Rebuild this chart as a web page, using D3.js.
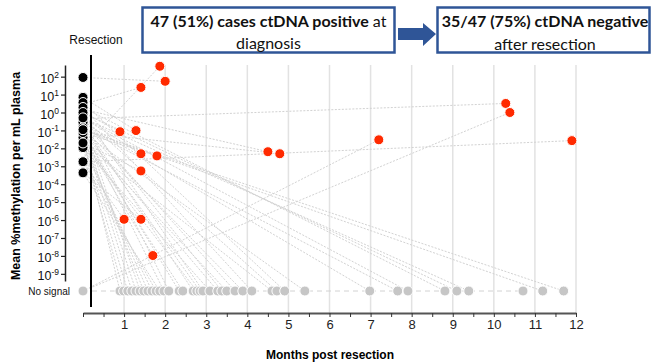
<!DOCTYPE html>
<html>
<head>
<meta charset="utf-8">
<script src="https://cdn.jsdelivr.net/npm/d3@7"></script>
<style>
body { margin: 0; background: #fff; }
svg { display: block; font-family: "Liberation Sans", Arial, sans-serif; }
</style>
</head>
<body>
<div id="chart"></div>
<script>
// ctDNA positive after resection (red): months, value, value at diagnosis (null = no signal)
var posMonths = [1.87, 2.0, 1.41, 0.9, 1.29, 1.41, 1.80, 1.41, 1.0, 1.41, 1.70, 4.5, 4.79, 7.2, 10.29, 10.39, 11.9];
var posValues = [380, 55, 25, 0.085, 0.098, 0.005, 0.0038, 0.00055, 1.1e-6, 1.1e-6, 1.05e-8, 0.0065, 0.005, 0.03, 3.2, 1.0, 0.027];
var posDiag = [0.011, 90, 2.8, 1, 7, 0.5, 0.076, 0.02, 0.0018, 0.00043, 0.04, 1.5, 0.076, null, 0.45, null, 0.0018];

// no signal after resection (grey)
var negMonths = [0.90, 0.99, 1.09, 1.19, 1.29, 1.39, 1.48, 1.58, 1.68, 1.78, 1.87, 1.97, 2.09, 2.34, 2.43,
  2.68, 2.77, 2.85, 2.92, 3.09, 3.28, 3.38, 3.50, 3.70, 3.89, 4.11, 4.60, 4.72, 4.91, 5.40,
  6.98, 7.66, 7.91, 8.81, 9.10, 9.39, 10.71, 11.19, 11.70];
var negDiag = [0.04, 0.011, 0.02, 0.076, 0.14, 0.28, 0.04, 0.02, 0.011, 0.0018, 0.00043, 0.14, 0.5, 0.076, 0.04,
  0.28, 0.02, 0.14, 1, 0.011, 0.076, 0.5, 0.04, 0.28, 0.14, 1.9, 0.02, 0.5, 3.6, 0.076,
  0.28, 0.14, 0.5, 1.9, 1, 0.5, null, 0.11, 0.11];

var xTicks = d3.range(0, 12.5, 0.5);
var yTicks = [1e2, 1e1, 1e0, 1e-1, 1e-2, 1e-3, 1e-4, 1e-5, 1e-6, 1e-7, 1e-8, 1e-9];

var W = 652, H = 363;
var svg = d3.select("#chart").append("svg").attr("width", W).attr("height", H);

var x = d3.scaleLinear().domain([0, 12]).range([83, 576]);
var y = d3.scaleLog().domain([Math.pow(10, -9.4), Math.pow(10, 2.65)]).range([281, 65]);
var yNone = 291;
function yv(v) { return v == null ? yNone : y(v); }

// grid
svg.append("g").selectAll("line").data(d3.range(1, 13)).enter().append("line")
  .attr("x1", function (d) { return x(d); }).attr("x2", function (d) { return x(d); })
  .attr("y1", 65).attr("y2", 313)
  .attr("stroke", "#e2e2e2").attr("stroke-width", 1.5);

// patients
var patients = [];
posMonths.forEach(function (m, i) { patients.push({ m: m, v: posValues[i], d: posDiag[i], pos: true }); });
negMonths.forEach(function (m, i) { patients.push({ m: m, v: null, d: negDiag[i], pos: false }); });

svg.append("g").selectAll("line").data(patients).enter().append("line")
  .attr("x1", x(0)).attr("y1", function (p) { return yv(p.d); })
  .attr("x2", function (p) { return x(p.m); }).attr("y2", function (p) { return yv(p.v); })
  .attr("stroke", "#d2d2d2").attr("stroke-width", 1)
  .attr("stroke-dasharray", function (p) { return (p.d == null && p.v == null) ? "5,4" : "2,1.5"; });

// axes
var xAxis = svg.append("g").attr("transform", "translate(0,313)")
  .call(d3.axisBottom(x).tickValues(xTicks).tickSize(4).tickSizeOuter(0)
    .tickFormat(function (d) { return (d > 0 && d % 1 === 0) ? d : ""; }));
xAxis.select(".domain").attr("stroke", "#555").attr("stroke-width", 2);
xAxis.selectAll(".tick line").attr("stroke", "#333");
xAxis.selectAll("text").attr("font-size", 13).attr("fill", "#222");

var yAxis = svg.append("g").attr("transform", "translate(65,0)")
  .call(d3.axisLeft(y).tickValues(yTicks).tickSize(4).tickSizeOuter(0).tickFormat(""));
yAxis.select(".domain").attr("stroke", "#222").attr("stroke-width", 1.5);
yAxis.selectAll(".tick line").attr("stroke", "#222").attr("stroke-width", 1.2);
yAxis.selectAll(".tick text").each(function (d) {
  var t = d3.select(this);
  t.text("10").attr("font-size", 12.5).attr("fill", "#111").attr("dy", "0.45em").attr("x", -6);
  t.append("tspan").attr("dy", "-0.6em").attr("font-size", 8.5).text(Math.round(Math.log10(d)));
});

svg.append("text").attr("x", 70).attr("y", yNone).attr("dy", "0.35em")
  .attr("text-anchor", "end").attr("font-size", 10).attr("fill", "#111").text("No signal");

// resection line
svg.append("line").attr("x1", 91).attr("x2", 91).attr("y1", 55).attr("y2", 307)
  .attr("stroke", "#000").attr("stroke-width", 2);
svg.append("text").attr("x", 96).attr("y", 44).attr("text-anchor", "middle")
  .attr("font-size", 12).attr("fill", "#111").text("Resection");

// dots
svg.append("g").selectAll("circle").data(patients.filter(function (p) { return !p.pos; })).enter()
  .append("circle").attr("cx", function (p) { return x(p.m); }).attr("cy", yNone).attr("r", 5)
  .attr("fill", "#c6c6c6").attr("stroke", "#fff").attr("stroke-width", 1);
svg.append("circle").attr("cx", x(0)).attr("cy", yNone).attr("r", 5)
  .attr("fill", "#c6c6c6").attr("stroke", "#fff").attr("stroke-width", 1);

svg.append("g").selectAll("circle").data(patients.filter(function (p) { return p.d != null; })).enter()
  .append("circle").attr("cx", x(0)).attr("cy", function (p) { return y(p.d); }).attr("r", 5)
  .attr("fill", "#000").attr("stroke", "#fff").attr("stroke-width", 1);

svg.append("g").selectAll("circle").data(patients.filter(function (p) { return p.pos; })).enter()
  .append("circle").attr("cx", function (p) { return x(p.m); }).attr("cy", function (p) { return y(p.v); })
  .attr("r", 5).attr("fill", "#ff2a00").attr("stroke", "#fff").attr("stroke-width", 1);

// axis titles
svg.append("text").attr("transform", "translate(20,176) rotate(-90)").attr("text-anchor", "middle")
  .attr("font-size", 12.5).attr("font-weight", "bold").attr("fill", "#000").text("Mean %methylation per mL plasma");
svg.append("text").attr("x", 330).attr("y", 359).attr("text-anchor", "middle")
  .attr("font-size", 12).attr("font-weight", "bold").attr("fill", "#000").text("Months post resection");

// header boxes
var blue = "#2f5597";
var hf = "Lato, 'Open Sans', sans-serif";
svg.append("rect").attr("x", 142.5).attr("y", 7.5).attr("width", 252).attr("height", 45)
  .attr("fill", "#fff").attr("stroke", blue).attr("stroke-width", 2.5);
var t1 = svg.append("text").attr("x", 268.5).attr("y", 27).attr("text-anchor", "middle")
  .attr("font-family", hf).attr("font-size", 16).attr("fill", "#111");
t1.append("tspan").attr("font-weight", "bold").text("47 (51%) cases ctDNA positive");
t1.append("tspan").text(" at");
svg.append("text").attr("x", 268.5).attr("y", 49).attr("text-anchor", "middle")
  .attr("font-family", hf).attr("font-size", 16).attr("fill", "#111").text("diagnosis");

svg.append("path").attr("d", "M398,28 L423,28 L423,23 L436,34 L423,46 L423,40 L398,40 Z").attr("fill", blue);

svg.append("rect").attr("x", 437.5).attr("y", 7.5).attr("width", 212).attr("height", 45)
  .attr("fill", "#fff").attr("stroke", blue).attr("stroke-width", 2.5);
svg.append("text").attr("x", 545).attr("y", 27).attr("text-anchor", "middle")
  .attr("font-family", hf).attr("font-size", 16).attr("font-weight", "bold").attr("fill", "#111")
  .text("35/47 (75%) ctDNA negative");
svg.append("text").attr("x", 545).attr("y", 50).attr("text-anchor", "middle")
  .attr("font-family", hf).attr("font-size", 16).attr("fill", "#111").text("after resection");
</script>
</body>
</html>
